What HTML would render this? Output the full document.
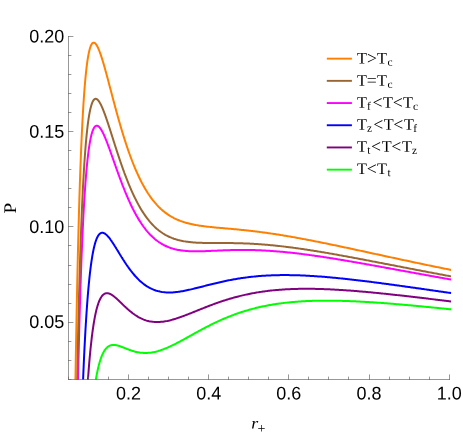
<!DOCTYPE html>
<html><head><meta charset="utf-8"><title>P-r+</title>
<style>
html,body{margin:0;padding:0;background:#fff;}
body{width:463px;height:433px;overflow:hidden;font-family:"Liberation Sans",sans-serif;}
svg{display:block;}
.tl text{font-family:"Liberation Sans",sans-serif;font-size:18.4px;fill:#000;}
.lg{font-family:"Liberation Serif",serif;font-size:16.2px;fill:#000;}
.sub{font-size:11.4px;}
.axl{font-family:"Liberation Serif",serif;fill:#000;}
</style></head><body>
<div style="will-change:transform;width:463px;height:433px">
<svg width="463" height="433" viewBox="0 0 463 433">
<rect width="463" height="433" fill="#fff"/>
<defs><clipPath id="cp"><rect x="68.6" y="30" width="382.7" height="349.7"/></clipPath></defs>
<g clip-path="url(#cp)" fill="none" stroke-width="2" stroke-linejoin="round" stroke-linecap="square">
<path d="M91.21,416.97 L91.40,414.91 L91.60,412.89 L91.79,410.93 L91.98,409.02 L92.18,407.15 L92.37,405.33 L92.57,403.56 L92.76,401.83 L92.96,400.14 L93.15,398.50 L93.35,396.89 L93.54,395.33 L93.73,393.80 L93.93,392.31 L94.12,390.86 L94.32,389.45 L94.51,388.07 L94.71,386.73 L94.90,385.42 L95.09,384.15 L95.29,382.91 L95.48,381.70 L95.68,380.52 L95.87,379.37 L96.07,378.25 L96.26,377.16 L96.45,376.10 L96.65,375.07 L96.84,374.06 L97.04,373.08 L97.23,372.13 L97.43,371.20 L97.62,370.30 L97.82,369.42 L98.01,368.56 L98.20,367.73 L98.40,366.92 L98.59,366.13 L98.79,365.37 L98.98,364.62 L99.18,363.90 L99.37,363.19 L99.56,362.51 L99.76,361.85 L99.95,361.20 L100.15,360.57 L100.34,359.97 L100.54,359.37 L100.73,358.80 L100.93,358.24 L101.12,357.70 L101.31,357.18 L101.51,356.67 L101.70,356.18 L101.90,355.70 L102.09,355.24 L102.29,354.79 L102.48,354.35 L102.67,353.93 L102.87,353.52 L103.06,353.13 L103.26,352.75 L103.45,352.38 L103.65,352.02 L103.84,351.68 L104.04,351.34 L104.23,351.02 L104.42,350.71 L104.62,350.41 L104.81,350.12 L105.01,349.84 L105.20,349.58 L105.40,349.32 L105.59,349.07 L105.78,348.83 L105.98,348.60 L106.17,348.38 L106.37,348.17 L106.56,347.96 L106.76,347.77 L106.95,347.58 L107.15,347.40 L107.34,347.23 L107.53,347.07 L107.73,346.91 L107.92,346.77 L108.12,346.62 L108.31,346.49 L108.51,346.36 L108.70,346.24 L108.89,346.13 L109.09,346.02 L109.28,345.92 L109.48,345.82 L109.67,345.73 L109.87,345.65 L110.06,345.57 L110.26,345.49 L110.45,345.42 L110.64,345.36 L110.84,345.30 L111.03,345.25 L111.23,345.20 L111.42,345.16 L111.62,345.12 L111.81,345.08 L112.00,345.05 L112.20,345.02 L112.39,345.00 L112.59,344.98 L112.78,344.97 L112.98,344.96 L113.17,344.95 L113.36,344.94 L113.56,344.94 L113.75,344.94 L113.95,344.95 L114.14,344.96 L114.34,344.97 L114.53,344.98 L114.73,345.00 L114.92,345.02 L115.11,345.04 L115.31,345.07 L115.50,345.10 L115.70,345.13 L115.89,345.16 L116.09,345.19 L116.28,345.23 L116.47,345.27 L116.67,345.31 L116.86,345.36 L117.06,345.40 L117.25,345.45 L117.45,345.50 L117.64,345.55 L117.84,345.60 L118.03,345.65 L118.22,345.71 L118.42,345.76 L118.61,345.82 L118.81,345.88 L119.00,345.94 L119.20,346.00 L119.39,346.06 L119.58,346.13 L119.78,346.19 L119.97,346.26 L120.17,346.33 L120.36,346.39 L120.56,346.46 L120.75,346.53 L120.95,346.60 L121.14,346.67 L121.33,346.74 L121.53,346.82 L121.72,346.89 L121.92,346.96 L122.11,347.04 L122.31,347.11 L122.50,347.19 L122.69,347.26 L122.89,347.34 L123.08,347.41 L123.28,347.49 L123.47,347.57 L123.67,347.64 L123.86,347.72 L124.06,347.80 L124.25,347.87 L124.44,347.95 L124.64,348.03 L124.83,348.11 L125.03,348.18 L125.22,348.26 L125.42,348.34 L125.61,348.41 L125.80,348.49 L126.00,348.57 L126.19,348.65 L126.39,348.72 L126.58,348.80 L126.78,348.87 L126.97,348.95 L127.17,349.03 L127.36,349.10 L127.55,349.18 L127.75,349.25 L127.94,349.32 L128.14,349.40 L128.33,349.47 L128.53,349.54 L128.72,349.62 L129.80,350.01 L130.87,350.38 L131.95,350.74 L133.02,351.07 L134.10,351.38 L135.17,351.67 L136.25,351.92 L137.32,352.15 L138.40,352.36 L139.47,352.53 L140.55,352.67 L141.62,352.79 L142.70,352.87 L143.77,352.93 L144.85,352.96 L145.92,352.95 L147.00,352.92 L148.07,352.86 L149.15,352.77 L150.22,352.65 L151.30,352.51 L152.37,352.34 L153.45,352.14 L154.52,351.92 L155.60,351.68 L156.67,351.41 L157.75,351.12 L158.82,350.80 L159.90,350.47 L160.97,350.11 L162.05,349.74 L163.12,349.35 L164.20,348.94 L165.27,348.51 L166.35,348.07 L167.42,347.62 L168.50,347.15 L169.57,346.66 L170.65,346.17 L171.72,345.66 L172.80,345.14 L173.87,344.61 L174.95,344.07 L176.02,343.53 L177.10,342.97 L178.17,342.41 L179.25,341.84 L180.32,341.27 L181.40,340.69 L182.47,340.11 L183.55,339.52 L184.62,338.93 L185.70,338.34 L186.77,337.75 L187.85,337.15 L188.92,336.55 L190.00,335.96 L191.07,335.36 L192.15,334.76 L193.22,334.16 L194.30,333.57 L195.37,332.97 L196.45,332.38 L197.52,331.79 L198.60,331.20 L199.67,330.62 L200.75,330.04 L201.82,329.46 L202.90,328.89 L203.97,328.32 L205.05,327.75 L206.12,327.19 L207.20,326.64 L208.27,326.09 L209.35,325.54 L210.42,325.00 L211.50,324.46 L212.57,323.94 L213.65,323.41 L214.72,322.89 L215.80,322.38 L216.87,321.88 L217.95,321.38 L219.02,320.88 L220.10,320.40 L221.17,319.92 L222.25,319.44 L223.32,318.98 L224.40,318.52 L225.47,318.06 L226.55,317.62 L227.63,317.18 L228.70,316.74 L229.78,316.32 L230.85,315.90 L231.93,315.48 L233.00,315.08 L234.08,314.68 L235.15,314.28 L236.23,313.90 L237.30,313.52 L238.38,313.15 L239.45,312.78 L240.53,312.42 L241.60,312.07 L242.68,311.72 L243.75,311.38 L244.83,311.05 L245.90,310.73 L246.98,310.41 L248.05,310.09 L249.13,309.79 L250.20,309.49 L251.28,309.19 L252.35,308.90 L253.43,308.62 L254.50,308.35 L255.58,308.08 L256.65,307.81 L257.73,307.56 L258.80,307.30 L259.88,307.06 L260.95,306.82 L262.03,306.58 L263.10,306.35 L264.18,306.13 L265.25,305.91 L266.33,305.70 L267.40,305.49 L268.48,305.29 L269.55,305.10 L270.63,304.91 L271.70,304.72 L272.78,304.54 L273.85,304.36 L274.93,304.19 L276.00,304.03 L277.08,303.86 L278.15,303.71 L279.23,303.56 L280.30,303.41 L281.38,303.27 L282.45,303.13 L283.53,302.99 L284.60,302.87 L285.68,302.74 L286.75,302.62 L287.83,302.50 L288.90,302.39 L289.98,302.28 L291.05,302.18 L292.13,302.08 L293.20,301.98 L294.28,301.89 L295.35,301.80 L296.43,301.71 L297.50,301.63 L298.58,301.56 L299.65,301.48 L300.73,301.41 L301.80,301.34 L302.88,301.28 L303.95,301.22 L305.03,301.16 L306.10,301.11 L307.18,301.06 L308.25,301.01 L309.33,300.96 L310.40,300.92 L311.48,300.88 L312.55,300.85 L313.63,300.82 L314.70,300.79 L315.78,300.76 L316.85,300.74 L317.93,300.71 L319.00,300.70 L320.08,300.68 L321.15,300.67 L322.23,300.66 L323.31,300.65 L324.38,300.64 L325.46,300.64 L326.53,300.64 L327.61,300.64 L328.68,300.64 L329.76,300.65 L330.83,300.65 L331.91,300.66 L332.98,300.68 L334.06,300.69 L335.13,300.71 L336.21,300.73 L337.28,300.75 L338.36,300.77 L339.43,300.79 L340.51,300.82 L341.58,300.85 L342.66,300.88 L343.73,300.91 L344.81,300.94 L345.88,300.98 L346.96,301.02 L348.03,301.05 L349.11,301.10 L350.18,301.14 L351.26,301.18 L352.33,301.23 L353.41,301.27 L354.48,301.32 L355.56,301.37 L356.63,301.42 L357.71,301.48 L358.78,301.53 L359.86,301.58 L360.93,301.64 L362.01,301.70 L363.08,301.76 L364.16,301.82 L365.23,301.88 L366.31,301.95 L367.38,302.01 L368.46,302.08 L369.53,302.14 L370.61,302.21 L371.68,302.28 L372.76,302.35 L373.83,302.42 L374.91,302.49 L375.98,302.57 L377.06,302.64 L378.13,302.72 L379.21,302.79 L380.28,302.87 L381.36,302.95 L382.43,303.03 L383.51,303.11 L384.58,303.19 L385.66,303.27 L386.73,303.35 L387.81,303.44 L388.88,303.52 L389.96,303.61 L391.03,303.69 L392.11,303.78 L393.18,303.87 L394.26,303.96 L395.33,304.04 L396.41,304.13 L397.48,304.22 L398.56,304.32 L399.63,304.41 L400.71,304.50 L401.78,304.59 L402.86,304.69 L403.93,304.78 L405.01,304.88 L406.08,304.97 L407.16,305.07 L408.23,305.16 L409.31,305.26 L410.38,305.36 L411.46,305.46 L412.53,305.56 L413.61,305.66 L414.68,305.75 L415.76,305.86 L416.83,305.96 L417.91,306.06 L418.98,306.16 L420.06,306.26 L421.14,306.36 L422.21,306.47 L423.29,306.57 L424.36,306.67 L425.44,306.78 L426.51,306.88 L427.59,306.99 L428.66,307.09 L429.74,307.20 L430.81,307.30 L431.89,307.41 L432.96,307.51 L434.04,307.62 L435.11,307.73 L436.19,307.84 L437.26,307.94 L438.34,308.05 L439.41,308.16 L440.49,308.27 L441.56,308.38 L442.64,308.49 L443.71,308.59 L444.79,308.70 L445.86,308.81 L446.94,308.92 L448.01,309.03 L449.09,309.14 L450.16,309.25" stroke="#00ff00"/>
<path d="M85.76,415.85 L85.96,412.18 L86.15,408.61 L86.35,405.13 L86.54,401.74 L86.74,398.44 L86.93,395.23 L87.13,392.09 L87.32,389.05 L87.51,386.08 L87.71,383.19 L87.90,380.37 L88.10,377.63 L88.29,374.97 L88.49,372.37 L88.68,369.84 L88.87,367.38 L89.07,364.98 L89.26,362.65 L89.46,360.38 L89.65,358.17 L89.85,356.02 L90.04,353.93 L90.24,351.90 L90.43,349.92 L90.62,347.99 L90.82,346.12 L91.01,344.29 L91.21,342.52 L91.40,340.80 L91.60,339.12 L91.79,337.49 L91.98,335.91 L92.18,334.37 L92.37,332.87 L92.57,331.41 L92.76,330.00 L92.96,328.63 L93.15,327.29 L93.35,326.00 L93.54,324.74 L93.73,323.52 L93.93,322.33 L94.12,321.18 L94.32,320.06 L94.51,318.98 L94.71,317.93 L94.90,316.91 L95.09,315.92 L95.29,314.96 L95.48,314.03 L95.68,313.14 L95.87,312.26 L96.07,311.42 L96.26,310.60 L96.45,309.81 L96.65,309.05 L96.84,308.30 L97.04,307.59 L97.23,306.90 L97.43,306.23 L97.62,305.58 L97.82,304.96 L98.01,304.36 L98.20,303.78 L98.40,303.22 L98.59,302.68 L98.79,302.16 L98.98,301.65 L99.18,301.17 L99.37,300.71 L99.56,300.26 L99.76,299.84 L99.95,299.42 L100.15,299.03 L100.34,298.65 L100.54,298.29 L100.73,297.94 L100.93,297.61 L101.12,297.30 L101.31,296.99 L101.51,296.71 L101.70,296.43 L101.90,296.17 L102.09,295.93 L102.29,295.69 L102.48,295.47 L102.67,295.26 L102.87,295.06 L103.06,294.88 L103.26,294.70 L103.45,294.54 L103.65,294.39 L103.84,294.24 L104.04,294.11 L104.23,293.99 L104.42,293.88 L104.62,293.77 L104.81,293.68 L105.01,293.60 L105.20,293.52 L105.40,293.46 L105.59,293.40 L105.78,293.35 L105.98,293.31 L106.17,293.27 L106.37,293.24 L106.56,293.23 L106.76,293.21 L106.95,293.21 L107.15,293.21 L107.34,293.22 L107.53,293.23 L107.73,293.25 L107.92,293.28 L108.12,293.32 L108.31,293.35 L108.51,293.40 L108.70,293.45 L108.89,293.50 L109.09,293.57 L109.28,293.63 L109.48,293.70 L109.67,293.78 L109.87,293.86 L110.06,293.94 L110.26,294.03 L110.45,294.12 L110.64,294.22 L110.84,294.32 L111.03,294.43 L111.23,294.54 L111.42,294.65 L111.62,294.77 L111.81,294.88 L112.00,295.01 L112.20,295.13 L112.39,295.26 L112.59,295.39 L112.78,295.53 L112.98,295.67 L113.17,295.81 L113.36,295.95 L113.56,296.10 L113.75,296.24 L113.95,296.39 L114.14,296.55 L114.34,296.70 L114.53,296.86 L114.73,297.02 L114.92,297.18 L115.11,297.34 L115.31,297.50 L115.50,297.67 L115.70,297.84 L115.89,298.01 L116.09,298.18 L116.28,298.35 L116.47,298.52 L116.67,298.70 L116.86,298.87 L117.06,299.05 L117.25,299.23 L117.45,299.41 L117.64,299.59 L117.84,299.77 L118.03,299.95 L118.22,300.13 L118.42,300.31 L118.61,300.50 L118.81,300.68 L119.00,300.87 L119.20,301.05 L119.39,301.24 L119.58,301.43 L119.78,301.61 L119.97,301.80 L120.17,301.99 L120.36,302.18 L120.56,302.36 L120.75,302.55 L120.95,302.74 L121.14,302.93 L121.33,303.12 L121.53,303.31 L121.72,303.49 L121.92,303.68 L122.11,303.87 L122.31,304.06 L122.50,304.25 L122.69,304.44 L122.89,304.62 L123.08,304.81 L123.28,305.00 L123.47,305.18 L123.67,305.37 L123.86,305.56 L124.06,305.74 L124.25,305.93 L124.44,306.11 L124.64,306.30 L124.83,306.48 L125.03,306.66 L125.22,306.85 L125.42,307.03 L125.61,307.21 L125.80,307.39 L126.00,307.57 L126.19,307.75 L126.39,307.93 L126.58,308.11 L126.78,308.28 L126.97,308.46 L127.17,308.63 L127.36,308.81 L127.55,308.98 L127.75,309.16 L127.94,309.33 L128.14,309.50 L128.33,309.67 L128.53,309.84 L128.72,310.01 L129.80,310.93 L130.87,311.81 L131.95,312.66 L133.02,313.48 L134.10,314.26 L135.17,315.01 L136.25,315.72 L137.32,316.38 L138.40,317.02 L139.47,317.61 L140.55,318.16 L141.62,318.67 L142.70,319.15 L143.77,319.58 L144.85,319.98 L145.92,320.34 L147.00,320.67 L148.07,320.95 L149.15,321.21 L150.22,321.42 L151.30,321.61 L152.37,321.75 L153.45,321.87 L154.52,321.96 L155.60,322.01 L156.67,322.04 L157.75,322.04 L158.82,322.01 L159.90,321.95 L160.97,321.87 L162.05,321.77 L163.12,321.64 L164.20,321.48 L165.27,321.31 L166.35,321.12 L167.42,320.91 L168.50,320.67 L169.57,320.43 L170.65,320.16 L171.72,319.88 L172.80,319.58 L173.87,319.27 L174.95,318.95 L176.02,318.62 L177.10,318.27 L178.17,317.92 L179.25,317.55 L180.32,317.17 L181.40,316.79 L182.47,316.40 L183.55,316.00 L184.62,315.60 L185.70,315.19 L186.77,314.78 L187.85,314.36 L188.92,313.93 L190.00,313.51 L191.07,313.08 L192.15,312.65 L193.22,312.22 L194.30,311.78 L195.37,311.35 L196.45,310.91 L197.52,310.48 L198.60,310.04 L199.67,309.61 L200.75,309.18 L201.82,308.75 L202.90,308.32 L203.97,307.89 L205.05,307.46 L206.12,307.04 L207.20,306.62 L208.27,306.21 L209.35,305.79 L210.42,305.38 L211.50,304.98 L212.57,304.58 L213.65,304.18 L214.72,303.79 L215.80,303.40 L216.87,303.01 L217.95,302.63 L219.02,302.26 L220.10,301.89 L221.17,301.52 L222.25,301.16 L223.32,300.81 L224.40,300.46 L225.47,300.12 L226.55,299.78 L227.63,299.45 L228.70,299.12 L229.78,298.80 L230.85,298.48 L231.93,298.17 L233.00,297.86 L234.08,297.56 L235.15,297.27 L236.23,296.98 L237.30,296.70 L238.38,296.42 L239.45,296.15 L240.53,295.88 L241.60,295.62 L242.68,295.37 L243.75,295.12 L244.83,294.88 L245.90,294.64 L246.98,294.41 L248.05,294.18 L249.13,293.96 L250.20,293.74 L251.28,293.53 L252.35,293.32 L253.43,293.12 L254.50,292.93 L255.58,292.74 L256.65,292.56 L257.73,292.38 L258.80,292.20 L259.88,292.03 L260.95,291.87 L262.03,291.71 L263.10,291.56 L264.18,291.41 L265.25,291.26 L266.33,291.12 L267.40,290.99 L268.48,290.86 L269.55,290.73 L270.63,290.61 L271.70,290.49 L272.78,290.38 L273.85,290.27 L274.93,290.17 L276.00,290.07 L277.08,289.97 L278.15,289.88 L279.23,289.79 L280.30,289.71 L281.38,289.63 L282.45,289.55 L283.53,289.48 L284.60,289.41 L285.68,289.35 L286.75,289.29 L287.83,289.23 L288.90,289.18 L289.98,289.13 L291.05,289.08 L292.13,289.04 L293.20,289.00 L294.28,288.97 L295.35,288.93 L296.43,288.91 L297.50,288.88 L298.58,288.86 L299.65,288.84 L300.73,288.82 L301.80,288.81 L302.88,288.80 L303.95,288.79 L305.03,288.78 L306.10,288.78 L307.18,288.78 L308.25,288.78 L309.33,288.79 L310.40,288.80 L311.48,288.81 L312.55,288.82 L313.63,288.84 L314.70,288.86 L315.78,288.88 L316.85,288.90 L317.93,288.93 L319.00,288.96 L320.08,288.99 L321.15,289.02 L322.23,289.05 L323.31,289.09 L324.38,289.13 L325.46,289.17 L326.53,289.21 L327.61,289.26 L328.68,289.31 L329.76,289.36 L330.83,289.41 L331.91,289.46 L332.98,289.51 L334.06,289.57 L335.13,289.63 L336.21,289.69 L337.28,289.75 L338.36,289.81 L339.43,289.88 L340.51,289.94 L341.58,290.01 L342.66,290.08 L343.73,290.15 L344.81,290.23 L345.88,290.30 L346.96,290.38 L348.03,290.45 L349.11,290.53 L350.18,290.61 L351.26,290.69 L352.33,290.77 L353.41,290.86 L354.48,290.94 L355.56,291.03 L356.63,291.12 L357.71,291.21 L358.78,291.30 L359.86,291.39 L360.93,291.48 L362.01,291.57 L363.08,291.66 L364.16,291.76 L365.23,291.86 L366.31,291.95 L367.38,292.05 L368.46,292.15 L369.53,292.25 L370.61,292.35 L371.68,292.45 L372.76,292.56 L373.83,292.66 L374.91,292.76 L375.98,292.87 L377.06,292.98 L378.13,293.08 L379.21,293.19 L380.28,293.30 L381.36,293.41 L382.43,293.52 L383.51,293.63 L384.58,293.74 L385.66,293.85 L386.73,293.97 L387.81,294.08 L388.88,294.19 L389.96,294.31 L391.03,294.42 L392.11,294.54 L393.18,294.65 L394.26,294.77 L395.33,294.89 L396.41,295.01 L397.48,295.13 L398.56,295.24 L399.63,295.36 L400.71,295.48 L401.78,295.60 L402.86,295.73 L403.93,295.85 L405.01,295.97 L406.08,296.09 L407.16,296.21 L408.23,296.34 L409.31,296.46 L410.38,296.58 L411.46,296.71 L412.53,296.83 L413.61,296.96 L414.68,297.08 L415.76,297.21 L416.83,297.33 L417.91,297.46 L418.98,297.59 L420.06,297.71 L421.14,297.84 L422.21,297.97 L423.29,298.10 L424.36,298.22 L425.44,298.35 L426.51,298.48 L427.59,298.61 L428.66,298.74 L429.74,298.87 L430.81,299.00 L431.89,299.13 L432.96,299.25 L434.04,299.38 L435.11,299.51 L436.19,299.64 L437.26,299.77 L438.34,299.91 L439.41,300.04 L440.49,300.17 L441.56,300.30 L442.64,300.43 L443.71,300.56 L444.79,300.69 L445.86,300.82 L446.94,300.95 L448.01,301.08 L449.09,301.22 L450.16,301.35" stroke="#800080"/>
<path d="M81.88,412.36 L82.07,406.72 L82.27,401.24 L82.46,395.91 L82.65,390.73 L82.85,385.69 L83.04,380.80 L83.24,376.03 L83.43,371.41 L83.63,366.91 L83.82,362.53 L84.02,358.28 L84.21,354.15 L84.40,350.13 L84.60,346.23 L84.79,342.43 L84.99,338.74 L85.18,335.16 L85.38,331.67 L85.57,328.29 L85.76,324.99 L85.96,321.80 L86.15,318.69 L86.35,315.67 L86.54,312.74 L86.74,309.89 L86.93,307.13 L87.13,304.44 L87.32,301.83 L87.51,299.30 L87.71,296.84 L87.90,294.45 L88.10,292.13 L88.29,289.88 L88.49,287.70 L88.68,285.58 L88.87,283.53 L89.07,281.53 L89.26,279.60 L89.46,277.73 L89.65,275.91 L89.85,274.15 L90.04,272.44 L90.24,270.78 L90.43,269.18 L90.62,267.63 L90.82,266.12 L91.01,264.67 L91.21,263.26 L91.40,261.89 L91.60,260.57 L91.79,259.29 L91.98,258.06 L92.18,256.87 L92.37,255.71 L92.57,254.60 L92.76,253.52 L92.96,252.49 L93.15,251.48 L93.35,250.52 L93.54,249.59 L93.73,248.69 L93.93,247.82 L94.12,246.99 L94.32,246.19 L94.51,245.42 L94.71,244.67 L94.90,243.96 L95.09,243.28 L95.29,242.62 L95.48,241.99 L95.68,241.39 L95.87,240.81 L96.07,240.26 L96.26,239.74 L96.45,239.23 L96.65,238.75 L96.84,238.29 L97.04,237.86 L97.23,237.45 L97.43,237.05 L97.62,236.68 L97.82,236.33 L98.01,236.00 L98.20,235.68 L98.40,235.39 L98.59,235.11 L98.79,234.85 L98.98,234.61 L99.18,234.39 L99.37,234.18 L99.56,233.99 L99.76,233.81 L99.95,233.65 L100.15,233.50 L100.34,233.37 L100.54,233.25 L100.73,233.15 L100.93,233.06 L101.12,232.98 L101.31,232.92 L101.51,232.86 L101.70,232.82 L101.90,232.80 L102.09,232.78 L102.29,232.77 L102.48,232.78 L102.67,232.79 L102.87,232.82 L103.06,232.85 L103.26,232.90 L103.45,232.96 L103.65,233.02 L103.84,233.09 L104.04,233.18 L104.23,233.27 L104.42,233.37 L104.62,233.47 L104.81,233.59 L105.01,233.71 L105.20,233.84 L105.40,233.98 L105.59,234.12 L105.78,234.28 L105.98,234.43 L106.17,234.60 L106.37,234.77 L106.56,234.94 L106.76,235.13 L106.95,235.32 L107.15,235.51 L107.34,235.71 L107.53,235.91 L107.73,236.12 L107.92,236.34 L108.12,236.56 L108.31,236.78 L108.51,237.01 L108.70,237.24 L108.89,237.48 L109.09,237.72 L109.28,237.96 L109.48,238.21 L109.67,238.46 L109.87,238.72 L110.06,238.98 L110.26,239.24 L110.45,239.50 L110.64,239.77 L110.84,240.04 L111.03,240.32 L111.23,240.59 L111.42,240.87 L111.62,241.16 L111.81,241.44 L112.00,241.73 L112.20,242.02 L112.39,242.31 L112.59,242.60 L112.78,242.89 L112.98,243.19 L113.17,243.49 L113.36,243.79 L113.56,244.09 L113.75,244.39 L113.95,244.70 L114.14,245.00 L114.34,245.31 L114.53,245.62 L114.73,245.93 L114.92,246.24 L115.11,246.55 L115.31,246.86 L115.50,247.17 L115.70,247.49 L115.89,247.80 L116.09,248.12 L116.28,248.43 L116.47,248.75 L116.67,249.06 L116.86,249.38 L117.06,249.70 L117.25,250.02 L117.45,250.33 L117.64,250.65 L117.84,250.97 L118.03,251.29 L118.22,251.61 L118.42,251.93 L118.61,252.24 L118.81,252.56 L119.00,252.88 L119.20,253.20 L119.39,253.51 L119.58,253.83 L119.78,254.15 L119.97,254.47 L120.17,254.78 L120.36,255.10 L120.56,255.41 L120.75,255.73 L120.95,256.04 L121.14,256.35 L121.33,256.67 L121.53,256.98 L121.72,257.29 L121.92,257.60 L122.11,257.91 L122.31,258.22 L122.50,258.53 L122.69,258.84 L122.89,259.14 L123.08,259.45 L123.28,259.76 L123.47,260.06 L123.67,260.36 L123.86,260.66 L124.06,260.97 L124.25,261.27 L124.44,261.57 L124.64,261.86 L124.83,262.16 L125.03,262.46 L125.22,262.75 L125.42,263.04 L125.61,263.34 L125.80,263.63 L126.00,263.92 L126.19,264.21 L126.39,264.49 L126.58,264.78 L126.78,265.06 L126.97,265.35 L127.17,265.63 L127.36,265.91 L127.55,266.19 L127.75,266.47 L127.94,266.75 L128.14,267.02 L128.33,267.29 L128.53,267.57 L128.72,267.84 L129.80,269.31 L130.87,270.74 L131.95,272.12 L133.02,273.46 L134.10,274.74 L135.17,275.98 L136.25,277.16 L137.32,278.30 L138.40,279.39 L139.47,280.42 L140.55,281.41 L141.62,282.35 L142.70,283.24 L143.77,284.08 L144.85,284.87 L145.92,285.62 L147.00,286.33 L148.07,286.98 L149.15,287.60 L150.22,288.17 L151.30,288.70 L152.37,289.19 L153.45,289.64 L154.52,290.06 L155.60,290.43 L156.67,290.77 L157.75,291.08 L158.82,291.35 L159.90,291.59 L160.97,291.80 L162.05,291.98 L163.12,292.13 L164.20,292.25 L165.27,292.35 L166.35,292.42 L167.42,292.47 L168.50,292.49 L169.57,292.49 L170.65,292.47 L171.72,292.43 L172.80,292.38 L173.87,292.30 L174.95,292.21 L176.02,292.10 L177.10,291.97 L178.17,291.84 L179.25,291.68 L180.32,291.52 L181.40,291.34 L182.47,291.16 L183.55,290.96 L184.62,290.75 L185.70,290.54 L186.77,290.32 L187.85,290.09 L188.92,289.85 L190.00,289.61 L191.07,289.36 L192.15,289.11 L193.22,288.85 L194.30,288.59 L195.37,288.32 L196.45,288.06 L197.52,287.79 L198.60,287.51 L199.67,287.24 L200.75,286.97 L201.82,286.69 L202.90,286.41 L203.97,286.14 L205.05,285.86 L206.12,285.59 L207.20,285.31 L208.27,285.04 L209.35,284.77 L210.42,284.50 L211.50,284.23 L212.57,283.97 L213.65,283.70 L214.72,283.44 L215.80,283.18 L216.87,282.93 L217.95,282.68 L219.02,282.43 L220.10,282.18 L221.17,281.94 L222.25,281.70 L223.32,281.47 L224.40,281.24 L225.47,281.01 L226.55,280.79 L227.63,280.57 L228.70,280.35 L229.78,280.14 L230.85,279.93 L231.93,279.73 L233.00,279.53 L234.08,279.34 L235.15,279.15 L236.23,278.97 L237.30,278.79 L238.38,278.61 L239.45,278.44 L240.53,278.27 L241.60,278.11 L242.68,277.95 L243.75,277.80 L244.83,277.65 L245.90,277.51 L246.98,277.37 L248.05,277.23 L249.13,277.10 L250.20,276.98 L251.28,276.85 L252.35,276.74 L253.43,276.62 L254.50,276.52 L255.58,276.41 L256.65,276.31 L257.73,276.22 L258.80,276.12 L259.88,276.04 L260.95,275.95 L262.03,275.87 L263.10,275.80 L264.18,275.73 L265.25,275.66 L266.33,275.60 L267.40,275.54 L268.48,275.48 L269.55,275.43 L270.63,275.39 L271.70,275.34 L272.78,275.30 L273.85,275.27 L274.93,275.23 L276.00,275.20 L277.08,275.18 L278.15,275.16 L279.23,275.14 L280.30,275.12 L281.38,275.11 L282.45,275.10 L283.53,275.10 L284.60,275.09 L285.68,275.09 L286.75,275.10 L287.83,275.11 L288.90,275.12 L289.98,275.13 L291.05,275.14 L292.13,275.16 L293.20,275.19 L294.28,275.21 L295.35,275.24 L296.43,275.27 L297.50,275.30 L298.58,275.34 L299.65,275.37 L300.73,275.41 L301.80,275.46 L302.88,275.50 L303.95,275.55 L305.03,275.60 L306.10,275.65 L307.18,275.71 L308.25,275.77 L309.33,275.83 L310.40,275.89 L311.48,275.95 L312.55,276.02 L313.63,276.09 L314.70,276.16 L315.78,276.23 L316.85,276.30 L317.93,276.38 L319.00,276.46 L320.08,276.54 L321.15,276.62 L322.23,276.70 L323.31,276.79 L324.38,276.87 L325.46,276.96 L326.53,277.05 L327.61,277.14 L328.68,277.24 L329.76,277.33 L330.83,277.43 L331.91,277.53 L332.98,277.63 L334.06,277.73 L335.13,277.83 L336.21,277.94 L337.28,278.04 L338.36,278.15 L339.43,278.26 L340.51,278.37 L341.58,278.48 L342.66,278.59 L343.73,278.70 L344.81,278.82 L345.88,278.93 L346.96,279.05 L348.03,279.17 L349.11,279.28 L350.18,279.40 L351.26,279.52 L352.33,279.65 L353.41,279.77 L354.48,279.89 L355.56,280.02 L356.63,280.14 L357.71,280.27 L358.78,280.40 L359.86,280.53 L360.93,280.66 L362.01,280.79 L363.08,280.92 L364.16,281.05 L365.23,281.18 L366.31,281.31 L367.38,281.45 L368.46,281.58 L369.53,281.72 L370.61,281.86 L371.68,281.99 L372.76,282.13 L373.83,282.27 L374.91,282.41 L375.98,282.55 L377.06,282.69 L378.13,282.83 L379.21,282.97 L380.28,283.11 L381.36,283.25 L382.43,283.39 L383.51,283.54 L384.58,283.68 L385.66,283.82 L386.73,283.97 L387.81,284.11 L388.88,284.26 L389.96,284.41 L391.03,284.55 L392.11,284.70 L393.18,284.85 L394.26,284.99 L395.33,285.14 L396.41,285.29 L397.48,285.44 L398.56,285.59 L399.63,285.74 L400.71,285.88 L401.78,286.03 L402.86,286.18 L403.93,286.33 L405.01,286.49 L406.08,286.64 L407.16,286.79 L408.23,286.94 L409.31,287.09 L410.38,287.24 L411.46,287.39 L412.53,287.55 L413.61,287.70 L414.68,287.85 L415.76,288.00 L416.83,288.16 L417.91,288.31 L418.98,288.46 L420.06,288.61 L421.14,288.77 L422.21,288.92 L423.29,289.08 L424.36,289.23 L425.44,289.38 L426.51,289.54 L427.59,289.69 L428.66,289.84 L429.74,290.00 L430.81,290.15 L431.89,290.31 L432.96,290.46 L434.04,290.62 L435.11,290.77 L436.19,290.92 L437.26,291.08 L438.34,291.23 L439.41,291.39 L440.49,291.54 L441.56,291.70 L442.64,291.85 L443.71,292.00 L444.79,292.16 L445.86,292.31 L446.94,292.47 L448.01,292.62 L449.09,292.78 L450.16,292.93" stroke="#0000ff"/>
<path d="M77.41,409.33 L77.60,399.74 L77.80,390.45 L77.99,381.44 L78.18,372.71 L78.38,364.24 L78.57,356.03 L78.77,348.07 L78.96,340.35 L79.16,332.87 L79.35,325.62 L79.54,318.59 L79.74,311.77 L79.93,305.16 L80.13,298.75 L80.32,292.53 L80.52,286.51 L80.71,280.67 L80.91,275.01 L81.10,269.52 L81.29,264.20 L81.49,259.05 L81.68,254.05 L81.88,249.21 L82.07,244.52 L82.27,239.98 L82.46,235.57 L82.65,231.31 L82.85,227.17 L83.04,223.17 L83.24,219.29 L83.43,215.54 L83.63,211.90 L83.82,208.38 L84.02,204.98 L84.21,201.68 L84.40,198.49 L84.60,195.40 L84.79,192.42 L84.99,189.53 L85.18,186.73 L85.38,184.03 L85.57,181.42 L85.76,178.90 L85.96,176.46 L86.15,174.11 L86.35,171.83 L86.54,169.64 L86.74,167.52 L86.93,165.47 L87.13,163.50 L87.32,161.60 L87.51,159.76 L87.71,158.00 L87.90,156.30 L88.10,154.66 L88.29,153.08 L88.49,151.56 L88.68,150.10 L88.87,148.70 L89.07,147.36 L89.26,146.06 L89.46,144.82 L89.65,143.63 L89.85,142.49 L90.04,141.40 L90.24,140.36 L90.43,139.36 L90.62,138.41 L90.82,137.50 L91.01,136.63 L91.21,135.80 L91.40,135.02 L91.60,134.27 L91.79,133.56 L91.98,132.89 L92.18,132.25 L92.37,131.65 L92.57,131.09 L92.76,130.56 L92.96,130.06 L93.15,129.59 L93.35,129.15 L93.54,128.74 L93.73,128.36 L93.93,128.01 L94.12,127.69 L94.32,127.40 L94.51,127.13 L94.71,126.89 L94.90,126.67 L95.09,126.47 L95.29,126.30 L95.48,126.16 L95.68,126.03 L95.87,125.93 L96.07,125.85 L96.26,125.79 L96.45,125.74 L96.65,125.72 L96.84,125.72 L97.04,125.74 L97.23,125.77 L97.43,125.82 L97.62,125.89 L97.82,125.98 L98.01,126.08 L98.20,126.20 L98.40,126.33 L98.59,126.47 L98.79,126.64 L98.98,126.81 L99.18,127.00 L99.37,127.20 L99.56,127.42 L99.76,127.65 L99.95,127.89 L100.15,128.14 L100.34,128.40 L100.54,128.68 L100.73,128.96 L100.93,129.26 L101.12,129.57 L101.31,129.88 L101.51,130.21 L101.70,130.54 L101.90,130.89 L102.09,131.24 L102.29,131.60 L102.48,131.97 L102.67,132.35 L102.87,132.74 L103.06,133.13 L103.26,133.53 L103.45,133.94 L103.65,134.35 L103.84,134.77 L104.04,135.20 L104.23,135.63 L104.42,136.07 L104.62,136.51 L104.81,136.96 L105.01,137.42 L105.20,137.88 L105.40,138.35 L105.59,138.82 L105.78,139.29 L105.98,139.77 L106.17,140.25 L106.37,140.74 L106.56,141.23 L106.76,141.73 L106.95,142.23 L107.15,142.73 L107.34,143.24 L107.53,143.75 L107.73,144.26 L107.92,144.77 L108.12,145.29 L108.31,145.81 L108.51,146.34 L108.70,146.86 L108.89,147.39 L109.09,147.92 L109.28,148.45 L109.48,148.98 L109.67,149.52 L109.87,150.06 L110.06,150.60 L110.26,151.14 L110.45,151.68 L110.64,152.22 L110.84,152.77 L111.03,153.31 L111.23,153.86 L111.42,154.41 L111.62,154.95 L111.81,155.50 L112.00,156.05 L112.20,156.60 L112.39,157.15 L112.59,157.71 L112.78,158.26 L112.98,158.81 L113.17,159.36 L113.36,159.91 L113.56,160.47 L113.75,161.02 L113.95,161.57 L114.14,162.12 L114.34,162.67 L114.53,163.23 L114.73,163.78 L114.92,164.33 L115.11,164.88 L115.31,165.43 L115.50,165.98 L115.70,166.53 L115.89,167.07 L116.09,167.62 L116.28,168.17 L116.47,168.71 L116.67,169.26 L116.86,169.80 L117.06,170.35 L117.25,170.89 L117.45,171.43 L117.64,171.97 L117.84,172.51 L118.03,173.05 L118.22,173.58 L118.42,174.12 L118.61,174.65 L118.81,175.19 L119.00,175.72 L119.20,176.25 L119.39,176.78 L119.58,177.30 L119.78,177.83 L119.97,178.35 L120.17,178.88 L120.36,179.40 L120.56,179.92 L120.75,180.43 L120.95,180.95 L121.14,181.46 L121.33,181.98 L121.53,182.49 L121.72,183.00 L121.92,183.51 L122.11,184.01 L122.31,184.52 L122.50,185.02 L122.69,185.52 L122.89,186.02 L123.08,186.51 L123.28,187.01 L123.47,187.50 L123.67,187.99 L123.86,188.48 L124.06,188.97 L124.25,189.45 L124.44,189.94 L124.64,190.42 L124.83,190.90 L125.03,191.37 L125.22,191.85 L125.42,192.32 L125.61,192.79 L125.80,193.26 L126.00,193.73 L126.19,194.19 L126.39,194.65 L126.58,195.11 L126.78,195.57 L126.97,196.03 L127.17,196.48 L127.36,196.93 L127.55,197.38 L127.75,197.83 L127.94,198.27 L128.14,198.72 L128.33,199.16 L128.53,199.60 L128.72,200.03 L129.80,202.40 L130.87,204.71 L131.95,206.94 L133.02,209.10 L134.10,211.20 L135.17,213.22 L136.25,215.18 L137.32,217.06 L138.40,218.88 L139.47,220.63 L140.55,222.32 L141.62,223.94 L142.70,225.50 L143.77,226.99 L144.85,228.42 L145.92,229.79 L147.00,231.11 L148.07,232.36 L149.15,233.56 L150.22,234.70 L151.30,235.79 L152.37,236.83 L153.45,237.82 L154.52,238.76 L155.60,239.65 L156.67,240.50 L157.75,241.30 L158.82,242.05 L159.90,242.77 L160.97,243.45 L162.05,244.08 L163.12,244.68 L164.20,245.25 L165.27,245.78 L166.35,246.27 L167.42,246.74 L168.50,247.17 L169.57,247.57 L170.65,247.95 L171.72,248.30 L172.80,248.62 L173.87,248.92 L174.95,249.20 L176.02,249.45 L177.10,249.69 L178.17,249.90 L179.25,250.09 L180.32,250.27 L181.40,250.43 L182.47,250.57 L183.55,250.69 L184.62,250.81 L185.70,250.91 L186.77,250.99 L187.85,251.06 L188.92,251.13 L190.00,251.18 L191.07,251.22 L192.15,251.25 L193.22,251.28 L194.30,251.29 L195.37,251.30 L196.45,251.30 L197.52,251.30 L198.60,251.29 L199.67,251.27 L200.75,251.25 L201.82,251.23 L202.90,251.20 L203.97,251.16 L205.05,251.13 L206.12,251.09 L207.20,251.05 L208.27,251.01 L209.35,250.97 L210.42,250.92 L211.50,250.87 L212.57,250.83 L213.65,250.78 L214.72,250.73 L215.80,250.68 L216.87,250.64 L217.95,250.59 L219.02,250.54 L220.10,250.50 L221.17,250.45 L222.25,250.41 L223.32,250.37 L224.40,250.33 L225.47,250.29 L226.55,250.25 L227.63,250.21 L228.70,250.18 L229.78,250.15 L230.85,250.12 L231.93,250.09 L233.00,250.06 L234.08,250.04 L235.15,250.02 L236.23,250.00 L237.30,249.99 L238.38,249.98 L239.45,249.97 L240.53,249.96 L241.60,249.95 L242.68,249.95 L243.75,249.95 L244.83,249.96 L245.90,249.96 L246.98,249.97 L248.05,249.99 L249.13,250.00 L250.20,250.02 L251.28,250.04 L252.35,250.07 L253.43,250.09 L254.50,250.12 L255.58,250.16 L256.65,250.19 L257.73,250.23 L258.80,250.27 L259.88,250.31 L260.95,250.36 L262.03,250.41 L263.10,250.46 L264.18,250.52 L265.25,250.58 L266.33,250.64 L267.40,250.70 L268.48,250.77 L269.55,250.84 L270.63,250.91 L271.70,250.98 L272.78,251.06 L273.85,251.14 L274.93,251.22 L276.00,251.31 L277.08,251.39 L278.15,251.48 L279.23,251.57 L280.30,251.67 L281.38,251.76 L282.45,251.86 L283.53,251.96 L284.60,252.07 L285.68,252.17 L286.75,252.28 L287.83,252.39 L288.90,252.50 L289.98,252.61 L291.05,252.73 L292.13,252.85 L293.20,252.97 L294.28,253.09 L295.35,253.21 L296.43,253.34 L297.50,253.47 L298.58,253.60 L299.65,253.73 L300.73,253.86 L301.80,253.99 L302.88,254.13 L303.95,254.27 L305.03,254.41 L306.10,254.55 L307.18,254.69 L308.25,254.84 L309.33,254.98 L310.40,255.13 L311.48,255.28 L312.55,255.43 L313.63,255.58 L314.70,255.73 L315.78,255.89 L316.85,256.04 L317.93,256.20 L319.00,256.36 L320.08,256.52 L321.15,256.68 L322.23,256.84 L323.31,257.00 L324.38,257.17 L325.46,257.33 L326.53,257.50 L327.61,257.67 L328.68,257.83 L329.76,258.00 L330.83,258.17 L331.91,258.35 L332.98,258.52 L334.06,258.69 L335.13,258.86 L336.21,259.04 L337.28,259.22 L338.36,259.39 L339.43,259.57 L340.51,259.75 L341.58,259.93 L342.66,260.11 L343.73,260.29 L344.81,260.47 L345.88,260.65 L346.96,260.83 L348.03,261.02 L349.11,261.20 L350.18,261.38 L351.26,261.57 L352.33,261.75 L353.41,261.94 L354.48,262.13 L355.56,262.31 L356.63,262.50 L357.71,262.69 L358.78,262.88 L359.86,263.07 L360.93,263.26 L362.01,263.45 L363.08,263.64 L364.16,263.83 L365.23,264.02 L366.31,264.21 L367.38,264.40 L368.46,264.59 L369.53,264.78 L370.61,264.98 L371.68,265.17 L372.76,265.36 L373.83,265.56 L374.91,265.75 L375.98,265.95 L377.06,266.14 L378.13,266.33 L379.21,266.53 L380.28,266.72 L381.36,266.92 L382.43,267.11 L383.51,267.31 L384.58,267.50 L385.66,267.70 L386.73,267.90 L387.81,268.09 L388.88,268.29 L389.96,268.48 L391.03,268.68 L392.11,268.88 L393.18,269.07 L394.26,269.27 L395.33,269.47 L396.41,269.66 L397.48,269.86 L398.56,270.06 L399.63,270.25 L400.71,270.45 L401.78,270.65 L402.86,270.84 L403.93,271.04 L405.01,271.24 L406.08,271.43 L407.16,271.63 L408.23,271.83 L409.31,272.02 L410.38,272.22 L411.46,272.42 L412.53,272.61 L413.61,272.81 L414.68,273.00 L415.76,273.20 L416.83,273.40 L417.91,273.59 L418.98,273.79 L420.06,273.98 L421.14,274.18 L422.21,274.37 L423.29,274.57 L424.36,274.77 L425.44,274.96 L426.51,275.15 L427.59,275.35 L428.66,275.54 L429.74,275.74 L430.81,275.93 L431.89,276.13 L432.96,276.32 L434.04,276.51 L435.11,276.71 L436.19,276.90 L437.26,277.09 L438.34,277.29 L439.41,277.48 L440.49,277.67 L441.56,277.87 L442.64,278.06 L443.71,278.25 L444.79,278.44 L445.86,278.63 L446.94,278.82 L448.01,279.01 L449.09,279.21 L450.16,279.40" stroke="#ff00ff"/>
<path d="M76.44,415.99 L76.63,405.11 L76.82,394.57 L77.02,384.35 L77.21,374.46 L77.41,364.88 L77.60,355.59 L77.80,346.59 L77.99,337.87 L78.18,329.42 L78.38,321.24 L78.57,313.31 L78.77,305.62 L78.96,298.18 L79.16,290.96 L79.35,283.97 L79.54,277.20 L79.74,270.64 L79.93,264.28 L80.13,258.13 L80.32,252.16 L80.52,246.38 L80.71,240.79 L80.91,235.37 L81.10,230.12 L81.29,225.03 L81.49,220.11 L81.68,215.34 L81.88,210.73 L82.07,206.26 L82.27,201.93 L82.46,197.75 L82.65,193.70 L82.85,189.78 L83.04,185.99 L83.24,182.32 L83.43,178.77 L83.63,175.34 L83.82,172.02 L84.02,168.81 L84.21,165.71 L84.40,162.72 L84.60,159.82 L84.79,157.03 L84.99,154.33 L85.18,151.72 L85.38,149.20 L85.57,146.78 L85.76,144.43 L85.96,142.17 L86.15,140.00 L86.35,137.90 L86.54,135.88 L86.74,133.93 L86.93,132.05 L87.13,130.25 L87.32,128.51 L87.51,126.85 L87.71,125.24 L87.90,123.70 L88.10,122.22 L88.29,120.81 L88.49,119.45 L88.68,118.14 L88.87,116.90 L89.07,115.70 L89.26,114.56 L89.46,113.47 L89.65,112.43 L89.85,111.44 L90.04,110.49 L90.24,109.59 L90.43,108.73 L90.62,107.92 L90.82,107.15 L91.01,106.42 L91.21,105.74 L91.40,105.09 L91.60,104.47 L91.79,103.90 L91.98,103.36 L92.18,102.86 L92.37,102.39 L92.57,101.95 L92.76,101.55 L92.96,101.17 L93.15,100.83 L93.35,100.52 L93.54,100.23 L93.73,99.98 L93.93,99.75 L94.12,99.55 L94.32,99.37 L94.51,99.22 L94.71,99.10 L94.90,99.00 L95.09,98.92 L95.29,98.86 L95.48,98.83 L95.68,98.82 L95.87,98.83 L96.07,98.85 L96.26,98.90 L96.45,98.97 L96.65,99.06 L96.84,99.16 L97.04,99.29 L97.23,99.43 L97.43,99.58 L97.62,99.75 L97.82,99.94 L98.01,100.15 L98.20,100.37 L98.40,100.60 L98.59,100.85 L98.79,101.11 L98.98,101.38 L99.18,101.67 L99.37,101.97 L99.56,102.28 L99.76,102.60 L99.95,102.94 L100.15,103.28 L100.34,103.64 L100.54,104.01 L100.73,104.39 L100.93,104.77 L101.12,105.17 L101.31,105.58 L101.51,105.99 L101.70,106.41 L101.90,106.85 L102.09,107.29 L102.29,107.74 L102.48,108.19 L102.67,108.65 L102.87,109.12 L103.06,109.60 L103.26,110.09 L103.45,110.58 L103.65,111.07 L103.84,111.57 L104.04,112.08 L104.23,112.60 L104.42,113.11 L104.62,113.64 L104.81,114.17 L105.01,114.70 L105.20,115.24 L105.40,115.78 L105.59,116.33 L105.78,116.88 L105.98,117.44 L106.17,118.00 L106.37,118.56 L106.56,119.13 L106.76,119.70 L106.95,120.27 L107.15,120.84 L107.34,121.42 L107.53,122.00 L107.73,122.59 L107.92,123.17 L108.12,123.76 L108.31,124.35 L108.51,124.94 L108.70,125.54 L108.89,126.14 L109.09,126.73 L109.28,127.33 L109.48,127.93 L109.67,128.54 L109.87,129.14 L110.06,129.75 L110.26,130.35 L110.45,130.96 L110.64,131.57 L110.84,132.18 L111.03,132.79 L111.23,133.40 L111.42,134.01 L111.62,134.62 L111.81,135.23 L112.00,135.84 L112.20,136.45 L112.39,137.07 L112.59,137.68 L112.78,138.29 L112.98,138.90 L113.17,139.52 L113.36,140.13 L113.56,140.74 L113.75,141.35 L113.95,141.96 L114.14,142.57 L114.34,143.18 L114.53,143.79 L114.73,144.40 L114.92,145.01 L115.11,145.61 L115.31,146.22 L115.50,146.82 L115.70,147.43 L115.89,148.03 L116.09,148.63 L116.28,149.23 L116.47,149.83 L116.67,150.43 L116.86,151.03 L117.06,151.63 L117.25,152.22 L117.45,152.82 L117.64,153.41 L117.84,154.00 L118.03,154.59 L118.22,155.18 L118.42,155.76 L118.61,156.35 L118.81,156.93 L119.00,157.51 L119.20,158.09 L119.39,158.67 L119.58,159.25 L119.78,159.82 L119.97,160.40 L120.17,160.97 L120.36,161.54 L120.56,162.11 L120.75,162.67 L120.95,163.24 L121.14,163.80 L121.33,164.36 L121.53,164.92 L121.72,165.47 L121.92,166.03 L122.11,166.58 L122.31,167.13 L122.50,167.68 L122.69,168.22 L122.89,168.77 L123.08,169.31 L123.28,169.85 L123.47,170.38 L123.67,170.92 L123.86,171.45 L124.06,171.98 L124.25,172.51 L124.44,173.04 L124.64,173.56 L124.83,174.08 L125.03,174.60 L125.22,175.12 L125.42,175.64 L125.61,176.15 L125.80,176.66 L126.00,177.17 L126.19,177.67 L126.39,178.18 L126.58,178.68 L126.78,179.18 L126.97,179.67 L127.17,180.17 L127.36,180.66 L127.55,181.15 L127.75,181.64 L127.94,182.12 L128.14,182.60 L128.33,183.08 L128.53,183.56 L128.72,184.03 L129.80,186.62 L130.87,189.13 L131.95,191.56 L133.02,193.92 L134.10,196.20 L135.17,198.42 L136.25,200.55 L137.32,202.62 L138.40,204.61 L139.47,206.53 L140.55,208.38 L141.62,210.16 L142.70,211.88 L143.77,213.52 L144.85,215.11 L145.92,216.62 L147.00,218.08 L148.07,219.48 L149.15,220.81 L150.22,222.09 L151.30,223.31 L152.37,224.48 L153.45,225.60 L154.52,226.66 L155.60,227.67 L156.67,228.64 L157.75,229.55 L158.82,230.42 L159.90,231.25 L160.97,232.04 L162.05,232.78 L163.12,233.49 L164.20,234.16 L165.27,234.79 L166.35,235.39 L167.42,235.95 L168.50,236.48 L169.57,236.98 L170.65,237.45 L171.72,237.89 L172.80,238.30 L173.87,238.69 L174.95,239.05 L176.02,239.39 L177.10,239.71 L178.17,240.01 L179.25,240.28 L180.32,240.54 L181.40,240.77 L182.47,240.99 L183.55,241.20 L184.62,241.38 L185.70,241.55 L186.77,241.71 L187.85,241.86 L188.92,241.99 L190.00,242.11 L191.07,242.22 L192.15,242.32 L193.22,242.41 L194.30,242.49 L195.37,242.57 L196.45,242.63 L197.52,242.69 L198.60,242.74 L199.67,242.79 L200.75,242.82 L201.82,242.86 L202.90,242.89 L203.97,242.91 L205.05,242.94 L206.12,242.95 L207.20,242.97 L208.27,242.98 L209.35,242.99 L210.42,243.00 L211.50,243.00 L212.57,243.01 L213.65,243.01 L214.72,243.01 L215.80,243.02 L216.87,243.02 L217.95,243.02 L219.02,243.02 L220.10,243.02 L221.17,243.02 L222.25,243.03 L223.32,243.03 L224.40,243.03 L225.47,243.04 L226.55,243.04 L227.63,243.05 L228.70,243.06 L229.78,243.07 L230.85,243.08 L231.93,243.10 L233.00,243.11 L234.08,243.13 L235.15,243.15 L236.23,243.17 L237.30,243.19 L238.38,243.22 L239.45,243.25 L240.53,243.28 L241.60,243.31 L242.68,243.35 L243.75,243.38 L244.83,243.42 L245.90,243.47 L246.98,243.51 L248.05,243.56 L249.13,243.61 L250.20,243.66 L251.28,243.72 L252.35,243.77 L253.43,243.83 L254.50,243.90 L255.58,243.96 L256.65,244.03 L257.73,244.10 L258.80,244.17 L259.88,244.25 L260.95,244.32 L262.03,244.40 L263.10,244.49 L264.18,244.57 L265.25,244.66 L266.33,244.75 L267.40,244.84 L268.48,244.94 L269.55,245.04 L270.63,245.13 L271.70,245.24 L272.78,245.34 L273.85,245.45 L274.93,245.56 L276.00,245.67 L277.08,245.78 L278.15,245.90 L279.23,246.01 L280.30,246.13 L281.38,246.26 L282.45,246.38 L283.53,246.51 L284.60,246.63 L285.68,246.76 L286.75,246.90 L287.83,247.03 L288.90,247.16 L289.98,247.30 L291.05,247.44 L292.13,247.58 L293.20,247.73 L294.28,247.87 L295.35,248.02 L296.43,248.17 L297.50,248.32 L298.58,248.47 L299.65,248.62 L300.73,248.77 L301.80,248.93 L302.88,249.09 L303.95,249.25 L305.03,249.41 L306.10,249.57 L307.18,249.73 L308.25,249.90 L309.33,250.07 L310.40,250.23 L311.48,250.40 L312.55,250.57 L313.63,250.74 L314.70,250.92 L315.78,251.09 L316.85,251.26 L317.93,251.44 L319.00,251.62 L320.08,251.80 L321.15,251.97 L322.23,252.15 L323.31,252.34 L324.38,252.52 L325.46,252.70 L326.53,252.89 L327.61,253.07 L328.68,253.26 L329.76,253.44 L330.83,253.63 L331.91,253.82 L332.98,254.01 L334.06,254.20 L335.13,254.39 L336.21,254.58 L337.28,254.77 L338.36,254.97 L339.43,255.16 L340.51,255.36 L341.58,255.55 L342.66,255.75 L343.73,255.94 L344.81,256.14 L345.88,256.34 L346.96,256.53 L348.03,256.73 L349.11,256.93 L350.18,257.13 L351.26,257.33 L352.33,257.53 L353.41,257.73 L354.48,257.93 L355.56,258.14 L356.63,258.34 L357.71,258.54 L358.78,258.74 L359.86,258.95 L360.93,259.15 L362.01,259.35 L363.08,259.56 L364.16,259.76 L365.23,259.97 L366.31,260.17 L367.38,260.38 L368.46,260.58 L369.53,260.79 L370.61,261.00 L371.68,261.20 L372.76,261.41 L373.83,261.62 L374.91,261.82 L375.98,262.03 L377.06,262.24 L378.13,262.44 L379.21,262.65 L380.28,262.86 L381.36,263.07 L382.43,263.27 L383.51,263.48 L384.58,263.69 L385.66,263.90 L386.73,264.10 L387.81,264.31 L388.88,264.52 L389.96,264.73 L391.03,264.94 L392.11,265.14 L393.18,265.35 L394.26,265.56 L395.33,265.77 L396.41,265.98 L397.48,266.18 L398.56,266.39 L399.63,266.60 L400.71,266.81 L401.78,267.02 L402.86,267.22 L403.93,267.43 L405.01,267.64 L406.08,267.85 L407.16,268.05 L408.23,268.26 L409.31,268.47 L410.38,268.68 L411.46,268.88 L412.53,269.09 L413.61,269.30 L414.68,269.50 L415.76,269.71 L416.83,269.91 L417.91,270.12 L418.98,270.33 L420.06,270.53 L421.14,270.74 L422.21,270.94 L423.29,271.15 L424.36,271.35 L425.44,271.56 L426.51,271.76 L427.59,271.97 L428.66,272.17 L429.74,272.37 L430.81,272.58 L431.89,272.78 L432.96,272.99 L434.04,273.19 L435.11,273.39 L436.19,273.59 L437.26,273.80 L438.34,274.00 L439.41,274.20 L440.49,274.40 L441.56,274.60 L442.64,274.80 L443.71,275.00 L444.79,275.20 L445.86,275.41 L446.94,275.61 L448.01,275.80 L449.09,276.00 L450.16,276.20" stroke="#996633"/>
<path d="M75.07,404.99 L75.27,392.09 L75.46,379.62 L75.66,367.55 L75.85,355.87 L76.05,344.58 L76.24,333.64 L76.44,323.06 L76.63,312.83 L76.82,302.92 L77.02,293.34 L77.21,284.06 L77.41,275.08 L77.60,266.40 L77.80,257.99 L77.99,249.86 L78.18,241.99 L78.38,234.37 L78.57,227.00 L78.77,219.87 L78.96,212.98 L79.16,206.30 L79.35,199.85 L79.54,193.60 L79.74,187.57 L79.93,181.72 L80.13,176.07 L80.32,170.61 L80.52,165.33 L80.71,160.22 L80.91,155.29 L81.10,150.51 L81.29,145.90 L81.49,141.45 L81.68,137.14 L81.88,132.98 L82.07,128.97 L82.27,125.09 L82.46,121.34 L82.65,117.73 L82.85,114.24 L83.04,110.87 L83.24,107.62 L83.43,104.49 L83.63,101.47 L83.82,98.56 L84.02,95.76 L84.21,93.05 L84.40,90.45 L84.60,87.95 L84.79,85.54 L84.99,83.22 L85.18,80.99 L85.38,78.85 L85.57,76.79 L85.76,74.81 L85.96,72.92 L86.15,71.10 L86.35,69.35 L86.54,67.68 L86.74,66.08 L86.93,64.55 L87.13,63.08 L87.32,61.69 L87.51,60.35 L87.71,59.08 L87.90,57.87 L88.10,56.71 L88.29,55.61 L88.49,54.57 L88.68,53.58 L88.87,52.64 L89.07,51.76 L89.26,50.92 L89.46,50.13 L89.65,49.39 L89.85,48.70 L90.04,48.05 L90.24,47.44 L90.43,46.87 L90.62,46.34 L90.82,45.86 L91.01,45.41 L91.21,45.00 L91.40,44.63 L91.60,44.29 L91.79,43.98 L91.98,43.71 L92.18,43.47 L92.37,43.27 L92.57,43.09 L92.76,42.95 L92.96,42.83 L93.15,42.74 L93.35,42.68 L93.54,42.65 L93.73,42.64 L93.93,42.66 L94.12,42.70 L94.32,42.77 L94.51,42.85 L94.71,42.97 L94.90,43.10 L95.09,43.26 L95.29,43.43 L95.48,43.63 L95.68,43.84 L95.87,44.08 L96.07,44.33 L96.26,44.60 L96.45,44.89 L96.65,45.20 L96.84,45.52 L97.04,45.85 L97.23,46.21 L97.43,46.58 L97.62,46.96 L97.82,47.36 L98.01,47.77 L98.20,48.19 L98.40,48.63 L98.59,49.08 L98.79,49.54 L98.98,50.01 L99.18,50.49 L99.37,50.99 L99.56,51.50 L99.76,52.01 L99.95,52.54 L100.15,53.07 L100.34,53.62 L100.54,54.17 L100.73,54.74 L100.93,55.31 L101.12,55.89 L101.31,56.48 L101.51,57.07 L101.70,57.67 L101.90,58.28 L102.09,58.90 L102.29,59.52 L102.48,60.15 L102.67,60.79 L102.87,61.43 L103.06,62.08 L103.26,62.73 L103.45,63.39 L103.65,64.05 L103.84,64.72 L104.04,65.39 L104.23,66.07 L104.42,66.75 L104.62,67.43 L104.81,68.12 L105.01,68.81 L105.20,69.51 L105.40,70.21 L105.59,70.91 L105.78,71.62 L105.98,72.33 L106.17,73.04 L106.37,73.75 L106.56,74.47 L106.76,75.19 L106.95,75.91 L107.15,76.63 L107.34,77.35 L107.53,78.08 L107.73,78.81 L107.92,79.54 L108.12,80.27 L108.31,81.00 L108.51,81.73 L108.70,82.47 L108.89,83.20 L109.09,83.94 L109.28,84.68 L109.48,85.41 L109.67,86.15 L109.87,86.89 L110.06,87.63 L110.26,88.37 L110.45,89.11 L110.64,89.85 L110.84,90.59 L111.03,91.33 L111.23,92.06 L111.42,92.80 L111.62,93.54 L111.81,94.28 L112.00,95.02 L112.20,95.75 L112.39,96.49 L112.59,97.22 L112.78,97.96 L112.98,98.69 L113.17,99.43 L113.36,100.16 L113.56,100.89 L113.75,101.62 L113.95,102.35 L114.14,103.07 L114.34,103.80 L114.53,104.53 L114.73,105.25 L114.92,105.97 L115.11,106.69 L115.31,107.41 L115.50,108.13 L115.70,108.85 L115.89,109.56 L116.09,110.27 L116.28,110.99 L116.47,111.69 L116.67,112.40 L116.86,113.11 L117.06,113.81 L117.25,114.51 L117.45,115.21 L117.64,115.91 L117.84,116.61 L118.03,117.30 L118.22,118.00 L118.42,118.69 L118.61,119.37 L118.81,120.06 L119.00,120.74 L119.20,121.42 L119.39,122.10 L119.58,122.78 L119.78,123.45 L119.97,124.13 L120.17,124.80 L120.36,125.46 L120.56,126.13 L120.75,126.79 L120.95,127.45 L121.14,128.11 L121.33,128.76 L121.53,129.42 L121.72,130.07 L121.92,130.72 L122.11,131.36 L122.31,132.00 L122.50,132.64 L122.69,133.28 L122.89,133.92 L123.08,134.55 L123.28,135.18 L123.47,135.81 L123.67,136.43 L123.86,137.05 L124.06,137.67 L124.25,138.29 L124.44,138.90 L124.64,139.52 L124.83,140.12 L125.03,140.73 L125.22,141.33 L125.42,141.93 L125.61,142.53 L125.80,143.13 L126.00,143.72 L126.19,144.31 L126.39,144.90 L126.58,145.48 L126.78,146.06 L126.97,146.64 L127.17,147.22 L127.36,147.79 L127.55,148.36 L127.75,148.93 L127.94,149.49 L128.14,150.05 L128.33,150.61 L128.53,151.17 L128.72,151.72 L129.80,154.73 L130.87,157.66 L131.95,160.50 L133.02,163.25 L134.10,165.92 L135.17,168.51 L136.25,171.01 L137.32,173.43 L138.40,175.78 L139.47,178.04 L140.55,180.22 L141.62,182.33 L142.70,184.36 L143.77,186.32 L144.85,188.20 L145.92,190.02 L147.00,191.77 L148.07,193.45 L149.15,195.06 L150.22,196.61 L151.30,198.10 L152.37,199.53 L153.45,200.90 L154.52,202.21 L155.60,203.47 L156.67,204.68 L157.75,205.83 L158.82,206.93 L159.90,207.99 L160.97,209.00 L162.05,209.96 L163.12,210.88 L164.20,211.76 L165.27,212.60 L166.35,213.40 L167.42,214.16 L168.50,214.88 L169.57,215.57 L170.65,216.23 L171.72,216.86 L172.80,217.45 L173.87,218.02 L174.95,218.56 L176.02,219.07 L177.10,219.56 L178.17,220.02 L179.25,220.46 L180.32,220.88 L181.40,221.27 L182.47,221.65 L183.55,222.01 L184.62,222.35 L185.70,222.67 L186.77,222.97 L187.85,223.26 L188.92,223.54 L190.00,223.80 L191.07,224.05 L192.15,224.28 L193.22,224.51 L194.30,224.72 L195.37,224.92 L196.45,225.12 L197.52,225.30 L198.60,225.48 L199.67,225.64 L200.75,225.80 L201.82,225.96 L202.90,226.11 L203.97,226.25 L205.05,226.38 L206.12,226.51 L207.20,226.64 L208.27,226.76 L209.35,226.88 L210.42,227.00 L211.50,227.11 L212.57,227.22 L213.65,227.32 L214.72,227.43 L215.80,227.53 L216.87,227.63 L217.95,227.73 L219.02,227.83 L220.10,227.92 L221.17,228.02 L222.25,228.11 L223.32,228.21 L224.40,228.30 L225.47,228.40 L226.55,228.49 L227.63,228.59 L228.70,228.68 L229.78,228.78 L230.85,228.87 L231.93,228.97 L233.00,229.07 L234.08,229.17 L235.15,229.27 L236.23,229.37 L237.30,229.47 L238.38,229.57 L239.45,229.68 L240.53,229.79 L241.60,229.89 L242.68,230.00 L243.75,230.11 L244.83,230.23 L245.90,230.34 L246.98,230.46 L248.05,230.57 L249.13,230.69 L250.20,230.82 L251.28,230.94 L252.35,231.06 L253.43,231.19 L254.50,231.32 L255.58,231.45 L256.65,231.58 L257.73,231.72 L258.80,231.85 L259.88,231.99 L260.95,232.13 L262.03,232.27 L263.10,232.41 L264.18,232.56 L265.25,232.71 L266.33,232.86 L267.40,233.01 L268.48,233.16 L269.55,233.31 L270.63,233.47 L271.70,233.63 L272.78,233.79 L273.85,233.95 L274.93,234.11 L276.00,234.28 L277.08,234.45 L278.15,234.61 L279.23,234.78 L280.30,234.96 L281.38,235.13 L282.45,235.31 L283.53,235.48 L284.60,235.66 L285.68,235.84 L286.75,236.02 L287.83,236.20 L288.90,236.39 L289.98,236.57 L291.05,236.76 L292.13,236.95 L293.20,237.14 L294.28,237.33 L295.35,237.52 L296.43,237.72 L297.50,237.91 L298.58,238.11 L299.65,238.30 L300.73,238.50 L301.80,238.70 L302.88,238.90 L303.95,239.11 L305.03,239.31 L306.10,239.51 L307.18,239.72 L308.25,239.92 L309.33,240.13 L310.40,240.34 L311.48,240.55 L312.55,240.76 L313.63,240.97 L314.70,241.18 L315.78,241.40 L316.85,241.61 L317.93,241.82 L319.00,242.04 L320.08,242.26 L321.15,242.47 L322.23,242.69 L323.31,242.91 L324.38,243.13 L325.46,243.35 L326.53,243.57 L327.61,243.79 L328.68,244.01 L329.76,244.23 L330.83,244.46 L331.91,244.68 L332.98,244.90 L334.06,245.13 L335.13,245.35 L336.21,245.58 L337.28,245.80 L338.36,246.03 L339.43,246.26 L340.51,246.48 L341.58,246.71 L342.66,246.94 L343.73,247.17 L344.81,247.40 L345.88,247.62 L346.96,247.85 L348.03,248.08 L349.11,248.31 L350.18,248.54 L351.26,248.77 L352.33,249.01 L353.41,249.24 L354.48,249.47 L355.56,249.70 L356.63,249.93 L357.71,250.16 L358.78,250.39 L359.86,250.63 L360.93,250.86 L362.01,251.09 L363.08,251.32 L364.16,251.56 L365.23,251.79 L366.31,252.02 L367.38,252.25 L368.46,252.49 L369.53,252.72 L370.61,252.95 L371.68,253.19 L372.76,253.42 L373.83,253.65 L374.91,253.88 L375.98,254.12 L377.06,254.35 L378.13,254.58 L379.21,254.82 L380.28,255.05 L381.36,255.28 L382.43,255.52 L383.51,255.75 L384.58,255.98 L385.66,256.21 L386.73,256.45 L387.81,256.68 L388.88,256.91 L389.96,257.14 L391.03,257.37 L392.11,257.61 L393.18,257.84 L394.26,258.07 L395.33,258.30 L396.41,258.53 L397.48,258.76 L398.56,258.99 L399.63,259.22 L400.71,259.45 L401.78,259.68 L402.86,259.91 L403.93,260.14 L405.01,260.37 L406.08,260.60 L407.16,260.83 L408.23,261.06 L409.31,261.29 L410.38,261.52 L411.46,261.74 L412.53,261.97 L413.61,262.20 L414.68,262.43 L415.76,262.65 L416.83,262.88 L417.91,263.11 L418.98,263.33 L420.06,263.56 L421.14,263.79 L422.21,264.01 L423.29,264.24 L424.36,264.46 L425.44,264.68 L426.51,264.91 L427.59,265.13 L428.66,265.36 L429.74,265.58 L430.81,265.80 L431.89,266.02 L432.96,266.25 L434.04,266.47 L435.11,266.69 L436.19,266.91 L437.26,267.13 L438.34,267.35 L439.41,267.57 L440.49,267.79 L441.56,268.01 L442.64,268.23 L443.71,268.45 L444.79,268.67 L445.86,268.89 L446.94,269.10 L448.01,269.32 L449.09,269.54 L450.16,269.75" stroke="#ff8000"/>
</g>
<g fill="#666" fill-opacity="0.67" stroke="none">
<rect x="68" y="36" width="1" height="344"/>
<rect x="68" y="379" width="382" height="1"/>
<rect x="68" y="379" width="3.4" height="1"/>
<rect x="68" y="360" width="3.4" height="1"/>
<rect x="68" y="341" width="3.4" height="1"/>
<rect x="68" y="322" width="5.4" height="1"/>
<rect x="68" y="303" width="3.4" height="1"/>
<rect x="68" y="284" width="3.4" height="1"/>
<rect x="68" y="265" width="3.4" height="1"/>
<rect x="68" y="245" width="3.4" height="1"/>
<rect x="68" y="226" width="5.4" height="1"/>
<rect x="68" y="207" width="3.4" height="1"/>
<rect x="68" y="188" width="3.4" height="1"/>
<rect x="68" y="169" width="3.4" height="1"/>
<rect x="68" y="150" width="3.4" height="1"/>
<rect x="68" y="131" width="5.4" height="1"/>
<rect x="68" y="112" width="3.4" height="1"/>
<rect x="68" y="93" width="3.4" height="1"/>
<rect x="68" y="74" width="3.4" height="1"/>
<rect x="68" y="55" width="3.4" height="1"/>
<rect x="68" y="36" width="5.4" height="1"/>
<rect x="68" y="376.6" width="1" height="3.4"/>
<rect x="88" y="376.6" width="1" height="3.4"/>
<rect x="108" y="376.6" width="1" height="3.4"/>
<rect x="128" y="374.4" width="1" height="5.6"/>
<rect x="148" y="376.6" width="1" height="3.4"/>
<rect x="168" y="376.6" width="1" height="3.4"/>
<rect x="188" y="376.6" width="1" height="3.4"/>
<rect x="208" y="374.4" width="1" height="5.6"/>
<rect x="228" y="376.6" width="1" height="3.4"/>
<rect x="248" y="376.6" width="1" height="3.4"/>
<rect x="268" y="376.6" width="1" height="3.4"/>
<rect x="288" y="374.4" width="1" height="5.6"/>
<rect x="308" y="376.6" width="1" height="3.4"/>
<rect x="328" y="376.6" width="1" height="3.4"/>
<rect x="348" y="376.6" width="1" height="3.4"/>
<rect x="369" y="374.4" width="1" height="5.6"/>
<rect x="389" y="376.6" width="1" height="3.4"/>
<rect x="409" y="376.6" width="1" height="3.4"/>
<rect x="429" y="376.6" width="1" height="3.4"/>
<rect x="449" y="374.4" width="1" height="5.6"/>
</g>
<g class="tl">
<text transform="translate(64.3,42.53) rotate(0.05) scale(0.978,1)" text-anchor="end">0.20</text>
<text transform="translate(64.3,137.73) rotate(0.05) scale(0.978,1)" text-anchor="end">0.15</text>
<text transform="translate(64.3,232.93) rotate(0.05) scale(0.978,1)" text-anchor="end">0.10</text>
<text transform="translate(64.3,328.13) rotate(0.05) scale(0.978,1)" text-anchor="end">0.05</text>
<text transform="translate(128.52,399.4) rotate(0.05) scale(0.978,1)" text-anchor="middle">0.2</text>
<text transform="translate(208.68,399.4) rotate(0.05) scale(0.978,1)" text-anchor="middle">0.4</text>
<text transform="translate(288.84,399.4) rotate(0.05) scale(0.978,1)" text-anchor="middle">0.6</text>
<text transform="translate(369.00,399.4) rotate(0.05) scale(0.978,1)" text-anchor="middle">0.8</text>
<text transform="translate(449.16,399.4) rotate(0.05) scale(0.978,1)" text-anchor="middle">1.0</text>
</g>
<line x1="326.8" y1="58.65" x2="351.9" y2="58.65" stroke="#ff8000" stroke-width="1.9"/>
<text class="lg" transform="rotate(0.05 357 63.60)"><tspan x="357.07" y="63.60">T</tspan><tspan font-size="17.7" x="366.91" y="64.10">&gt;</tspan><tspan x="376.94" y="63.60">T</tspan><tspan class="sub" x="387.40" y="65.80">c</tspan></text>
<line x1="326.8" y1="80.85" x2="351.9" y2="80.85" stroke="#996633" stroke-width="1.9"/>
<text class="lg" transform="rotate(0.05 357 85.67)"><tspan x="357.07" y="85.67">T</tspan><tspan font-size="17.7" x="366.88" y="86.17">=</tspan><tspan x="376.94" y="85.67">T</tspan><tspan class="sub" x="387.40" y="87.87">c</tspan></text>
<line x1="326.8" y1="103.05" x2="351.9" y2="103.05" stroke="#ff00ff" stroke-width="1.9"/>
<text class="lg" transform="rotate(0.05 357 107.67)"><tspan x="357.05" y="107.67">T</tspan><tspan class="sub" x="366.95" y="109.87">f</tspan><tspan font-size="17.7" x="372.48" y="108.17">&lt;</tspan><tspan x="382.90" y="107.67">T</tspan><tspan font-size="17.7" x="392.68" y="108.17">&lt;</tspan><tspan x="402.90" y="107.67">T</tspan><tspan class="sub" x="412.90" y="109.87">c</tspan></text>
<line x1="326.8" y1="125.25" x2="351.9" y2="125.25" stroke="#0000ff" stroke-width="1.9"/>
<text class="lg" transform="rotate(0.05 357 129.65)"><tspan x="357.05" y="129.65">T</tspan><tspan class="sub" x="367.00" y="131.85">z</tspan><tspan font-size="17.7" x="373.18" y="130.15">&lt;</tspan><tspan x="383.65" y="129.65">T</tspan><tspan font-size="17.7" x="393.28" y="130.15">&lt;</tspan><tspan x="404.10" y="129.65">T</tspan><tspan class="sub" x="413.35" y="131.85">f</tspan></text>
<line x1="326.8" y1="147.45" x2="351.9" y2="147.45" stroke="#800080" stroke-width="1.9"/>
<text class="lg" transform="rotate(0.05 357 151.65)"><tspan x="357.05" y="151.65">T</tspan><tspan class="sub" x="367.20" y="153.85">t</tspan><tspan font-size="17.7" x="371.08" y="152.15">&lt;</tspan><tspan x="381.70" y="151.65">T</tspan><tspan font-size="17.7" x="391.38" y="152.15">&lt;</tspan><tspan x="402.10" y="151.65">T</tspan><tspan class="sub" x="411.90" y="153.85">z</tspan></text>
<line x1="326.8" y1="169.65" x2="351.9" y2="169.65" stroke="#00ff00" stroke-width="1.9"/>
<text class="lg" transform="rotate(0.05 357 174.00)"><tspan x="357.07" y="174.00">T</tspan><tspan font-size="17.7" x="366.68" y="174.50">&lt;</tspan><tspan x="377.10" y="174.00">T</tspan><tspan class="sub" x="387.55" y="176.20">t</tspan></text>
<text class="axl" font-size="17.8" text-anchor="middle" transform="translate(16,208.1) rotate(-89.95) scale(1.08,1)">P</text>
<text class="axl" font-size="16.2" font-style="italic" transform="translate(251.3,428.5) rotate(0.05) scale(1.1,1)">r</text>
<text class="axl" font-size="14" transform="translate(257.55,432.95) rotate(0.05)">+</text>
</svg>
</div>
</body></html>
